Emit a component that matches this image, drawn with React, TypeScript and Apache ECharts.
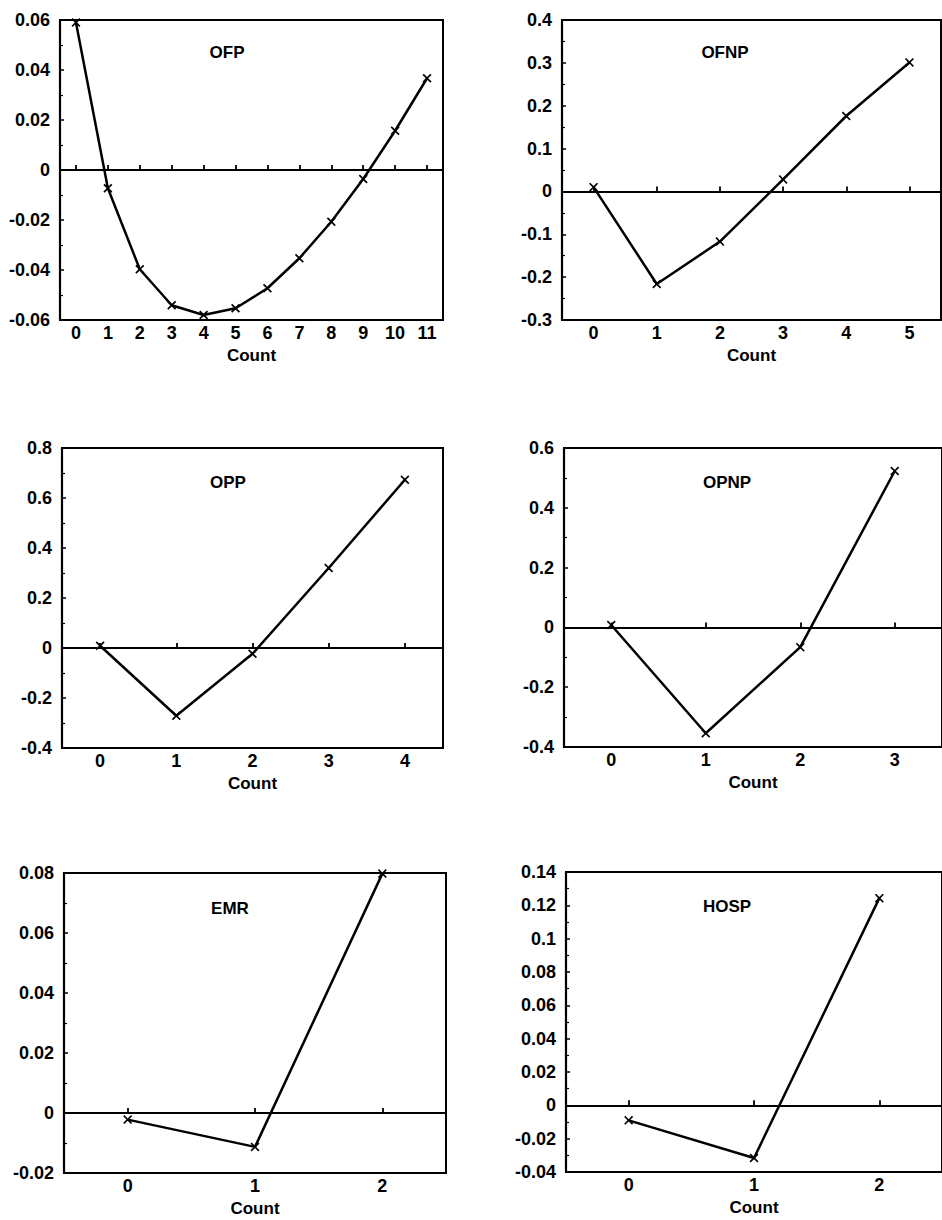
import React, { useEffect, useRef } from "react";
import * as echarts from "echarts";

const titles = ["OFP", "OFNP", "OPP", "OPNP", "EMR", "HOSP"];

const countsOFP = ["0", "1", "2", "3", "4", "5", "6", "7", "8", "9", "10", "11"];
const countsOFNP = ["0", "1", "2", "3", "4", "5"];
const countsOPP = ["0", "1", "2", "3", "4"];
const countsOPNP = ["0", "1", "2", "3"];
const countsEMR = ["0", "1", "2"];
const countsHOSP = ["0", "1", "2"];

const valuesOFP = [0.059, -0.0073, -0.0397, -0.0541, -0.058, -0.0553, -0.0473, -0.0353, -0.0207, -0.0036, 0.0157, 0.0367];
const valuesOFNP = [0.01, -0.216, -0.117, 0.028, 0.176, 0.301];
const valuesOPP = [0.009, -0.271, -0.023, 0.32, 0.673];
const valuesOPNP = [0.008, -0.354, -0.066, 0.523];
const valuesEMR = [-0.0022, -0.0113, 0.0798];
const valuesHOSP = [-0.009, -0.0316, 0.1243];

// y-axis ranges: [min, max, interval]
const yRanges: [number, number, number][] = [
  [-0.06, 0.06, 0.02],
  [-0.3, 0.4, 0.1],
  [-0.4, 0.8, 0.2],
  [-0.4, 0.6, 0.2],
  [-0.02, 0.08, 0.02],
  [-0.04, 0.14, 0.02],
];

const xCats = [countsOFP, countsOFNP, countsOPP, countsOPNP, countsEMR, countsHOSP];
const yVals = [valuesOFP, valuesOFNP, valuesOPP, valuesOPNP, valuesEMR, valuesHOSP];

const xName = "Count";

const FONT = "Liberation Sans, Arial, sans-serif";

const grids = [
  { left: 60, top: 20, width: 383, height: 300 },
  { left: 562, top: 20, width: 379, height: 300 },
  { left: 62, top: 448, width: 381, height: 300 },
  { left: 564, top: 448, width: 378, height: 299 },
  { left: 64, top: 873, width: 382, height: 300 },
  { left: 566, top: 872, width: 380, height: 300 },
];

const titlePos = [
  [227, 52],
  [725, 52],
  [228, 482],
  [727, 482],
  [230, 908],
  [727, 906],
];

const CROSS = "path://M0,1.3L1.3,0L5,3.7L8.7,0L10,1.3L6.3,5L10,8.7L8.7,10L5,6.3L1.3,10L0,8.7L3.7,5Z";

export default function App() {
  const ref = useRef<HTMLDivElement>(null);
  useEffect(() => {
    if (!ref.current) return;
    const chart = echarts.init(ref.current, undefined, { renderer: "svg" });
    const option: any = {
      animation: false,
      backgroundColor: "#fff",
      grid: grids.map((g) => ({
        ...g,
        show: true,
        borderColor: "#000",
        borderWidth: 2,
        backgroundColor: "transparent",
      })),
      xAxis: xCats.map((cats, i) => ({
        type: "category",
        gridIndex: i,
        data: cats,
        boundaryGap: true,
        name: xName,
        nameLocation: "middle",
        nameGap: 27,
        nameTextStyle: { color: "#000", fontFamily: FONT, fontWeight: "bold", fontSize: 17 },
        axisLine: { show: true, lineStyle: { color: "#000", width: 2.2 } },
        axisTick: { show: true, alignWithLabel: true, inside: true, length: 5, lineStyle: { color: "#000", width: 1.8 } },
        axisLabel: { color: "#000", fontFamily: FONT, fontWeight: "bold", fontSize: 18, margin: 4 },
        splitLine: { show: false },
      })),
      yAxis: yRanges.map((r, i) => ({
        type: "value",
        gridIndex: i,
        min: r[0],
        max: r[1],
        interval: r[2],
        axisLine: { show: true, lineStyle: { color: "#000", width: 2.2 } },
        axisTick: { show: true, inside: true, length: 4, lineStyle: { color: "#000", width: 1.5 } },
        minorTick: { show: true, splitNumber: 2, length: 3, lineStyle: { color: "#000", width: 1.2 } },
        axisLabel: { color: "#000", fontFamily: FONT, fontWeight: "bold", fontSize: 18, margin: 10 },
        splitLine: { show: false },
        minorSplitLine: { show: false },
      })),
      series: yVals.map((vals, i) => ({
        type: "line",
        xAxisIndex: i,
        yAxisIndex: i,
        data: vals,
        clip: false,
        symbol: CROSS,
        symbolSize: 9,
        itemStyle: { color: "#000" },
        lineStyle: { color: "#000", width: 2.5 },
        markLine: {
          silent: true,
          symbol: "none",
          label: { show: false },
          lineStyle: { color: "#000", width: 1.8, type: "solid" },
          data: [{ yAxis: 0 }],
        },
      })),
      graphic: titles.map((t, i) => ({
        type: "text",
        x: titlePos[i][0],
        y: titlePos[i][1],
        style: {
          text: t,
          fill: "#000",
          font: `bold 17px ${FONT}`,
          textAlign: "center",
          textVerticalAlign: "middle",
        },
      })),
    };
    chart.setOption(option);
    return () => chart.dispose();
  }, []);
  return (
    <div
      ref={ref}
      style={{ position: "absolute", left: 0, top: 0, width: 942, height: 1220, background: "#fff" }}
    />
  );
}
